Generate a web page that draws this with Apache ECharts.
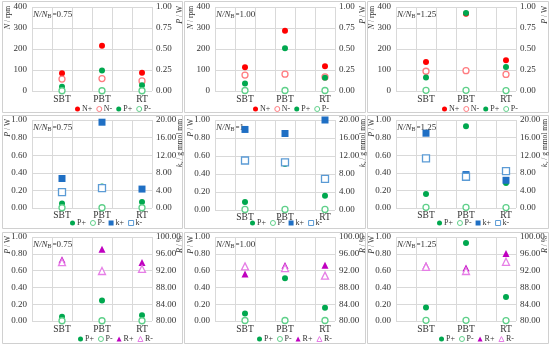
<!DOCTYPE html>
<html><head><meta charset="utf-8">
<script src="https://cdn.jsdelivr.net/npm/echarts@6/dist/echarts.min.js"></script>
<style>html,body{margin:0;padding:0;background:#fff}#c{width:550px;height:347px}</style>
</head><body><div id="c"></div>
<script>
// ---------- data ----------
const categories = ['SBT', 'PBT', 'RT'];
const ratioText = ['0.75', '1.00', '1.25'];
const ratioTextRow2 = ['0.75', '1', '1.25'];

// rotational speed N (rpm)
const nPos_075 = [84, 215, 87];
const nNeg_075 = [57, 59, 48];
const nPos_100 = [113, 287, 118];
const nNeg_100 = [76, 80, 67];
const nPos_125 = [138, 368, 146];
const nNeg_125 = [94, 97, 79];

// power P (W)
const pPos_075 = [0.05, 0.245, 0.068];
const pNeg_075 = [0.003, 0.003, 0.003];
const pPos_100 = [0.09, 0.51, 0.157];
const pNeg_100 = [0.006, 0.006, 0.006];
const pPos_125 = [0.16, 0.93, 0.285];
const pNeg_125 = [0.008, 0.008, 0.005];

// kv
const kPos_075 = [6.7, 19.5, 4.3];
const kNeg_075 = [3.6, 4.5, null];
const kPos_100 = [17.9, 17.0, 20.0];
const kNeg_100 = [11.0, 10.6, 6.9];
const kPos_125 = [17.0, 7.6, 6.3];
const kNeg_125 = [11.3, 7.1, 8.4];

// R (%)
const rPos_075 = [94.6, 97.1, 93.9];
const rNeg_075 = [94.0, 91.9, 92.4];
const rPos_100 = [91.2, 93.2, 93.3];
const rNeg_100 = [93.0, 92.6, 90.8];
const rPos_125 = [93.2, 92.6, 96.1];
const rNeg_125 = [92.9, 91.9, 94.1];

// tick labels
const nTicks = [0, 100, 200, 300, 400];
const pTicksRow1 = [0, 0.25, 0.5, 0.75, 1];
const pTicks = [0, 0.2, 0.4, 0.6, 0.8, 1];
const kTicks = [0, 4, 8, 12, 16, 20];
const rTicks = [80, 84, 88, 92, 96, 100];

// ---------- layout ----------
const colLeft = [32, 215, 396];
const plotW = 120;
const rowTop = [7, 120, 237];
const rowH = [[84, 84, 84], [88, 90, 88], [84, 84, 84]];
const panelX = [[2, 182], [184, 365], [367, 548]];
const panelY = [[1, 112], [115, 228], [232, 343]];
const legendTop = [105, 219, 335];
const legendLeft = [[75, 253, 442], [70, 250, 437], [78, 257, 439]];
const leftNameX = [8, 191, 372];
const rightNameX = [180, 363, 545];
const xLabelMargin = [3, 2, 3];

const STY = {
  'N+': {symbol: 'circle', size: 6, color: '#ff0000', fill: true},
  'N-': {symbol: 'circle', size: 6, color: '#ff7c80', fill: false},
  'P+': {symbol: 'circle', size: 6, color: '#00a84f', fill: true},
  'P-': {symbol: 'circle', size: 6, color: '#5fd08a', fill: false},
  'k+': {symbol: 'rect', size: 7, color: '#1f6fc4', fill: true},
  'k-': {symbol: 'rect', size: 7, color: '#5b9bd5', fill: false},
  'R+': {symbol: 'triangle', size: 7, color: '#c000c0', fill: true},
  'R-': {symbol: 'triangle', size: 7, color: '#e67ee6', fill: false}
};

const slotLabels = [];
categories.forEach(c => { slotLabels.push(''); slotLabels.push(c); });
function toSlots(arr) {
  return arr.map((v, i) => (v == null ? null : [slotLabels.indexOf(categories[i]), v])).filter(d => d);
}

const FONT = 'Liberation Serif';
const TXT = '#333';
const GRIDC = '#d9d9d9';

const panels = [
  [
    {series: [['N+', nPos_075, 0], ['N-', nNeg_075, 0], ['P+', pPos_075, 1], ['P-', pNeg_075, 1]]},
    {series: [['N+', nPos_100, 0], ['N-', nNeg_100, 0], ['P+', pPos_100, 1], ['P-', pNeg_100, 1]]},
    {series: [['N+', nPos_125, 0], ['N-', nNeg_125, 0], ['P+', pPos_125, 1], ['P-', pNeg_125, 1]]}
  ],
  [
    {series: [['P+', pPos_075, 0], ['P-', pNeg_075, 0], ['k+', kPos_075, 1], ['k-', kNeg_075, 1]]},
    {series: [['P+', pPos_100, 0], ['P-', pNeg_100, 0], ['k+', kPos_100, 1], ['k-', kNeg_100, 1]]},
    {series: [['P+', pPos_125, 0], ['P-', pNeg_125, 0], ['k+', kPos_125, 1], ['k-', kNeg_125, 1]]}
  ],
  [
    {series: [['P+', pPos_075, 0], ['P-', pNeg_075, 0], ['R+', rPos_075, 1], ['R-', rNeg_075, 1]]},
    {series: [['P+', pPos_100, 0], ['P-', pNeg_100, 0], ['R+', rPos_100, 1], ['R-', rNeg_100, 1]]},
    {series: [['P+', pPos_125, 0], ['P-', pNeg_125, 0], ['R+', rPos_125, 1], ['R-', rNeg_125, 1]]}
  ]
];
const rowAxes = [
  {left: nTicks, right: pTicksRow1, lfmt: v => String(v), rfmt: v => v.toFixed(2), lname: ['N', ' / rpm'], rname: ['P', ' / W']},
  {left: pTicks, right: kTicks, lfmt: v => v.toFixed(2), rfmt: v => v.toFixed(2), lname: ['P', ' / W'], rname: ['k', 'ᵥ / g mmol mm']},
  {left: pTicks, right: rTicks, lfmt: v => v.toFixed(2), rfmt: v => v.toFixed(2), lname: ['P', ' / W'], rname: ['R', ' / %']}
];

const grids = [], xAxes = [], yAxes = [], series = [], legends = [], graphics = [];

for (let r = 0; r < 3; r++) {
  for (let c = 0; c < 3; c++) {
    const g = grids.length;
    const ax = rowAxes[r];
    grids.push({left: colLeft[c], top: rowTop[r], width: plotW, height: rowH[r][c], containLabel: false, outerBoundsMode: 'none'});
    xAxes.push({
      type: 'category', gridIndex: g, data: slotLabels, boundaryGap: true,
      axisLine: {show: false}, axisTick: {show: false},
      splitLine: {show: true, interval: 0, lineStyle: {color: GRIDC, width: 1}},
      axisLabel: {interval: 0, margin: xLabelMargin[r], fontFamily: FONT, fontSize: 9.5, color: TXT}
    });
    const L = ax.left, R = ax.right;
    yAxes.push({
      type: 'value', gridIndex: g, position: 'left',
      min: L[0], max: L[L.length - 1], interval: L[1] - L[0],
      axisLine: {show: false}, axisTick: {show: false},
      splitLine: {show: true, lineStyle: {color: GRIDC, width: 1}},
      axisLabel: {margin: 5, fontFamily: FONT, fontSize: 9, color: TXT, formatter: ax.lfmt}
    });
    yAxes.push({
      type: 'value', gridIndex: g, position: 'right',
      min: R[0], max: R[R.length - 1], interval: R[1] - R[0],
      axisLine: {show: false}, axisTick: {show: false}, splitLine: {show: false},
      axisLabel: {margin: 4, fontFamily: FONT, fontSize: 9, color: TXT, formatter: ax.rfmt}
    });
    const names = [];
    panels[r][c].series.forEach(([name, arr, side]) => {
      const s = STY[name];
      names.push(name);
      series.push({
        type: 'scatter', name: name, xAxisIndex: g, yAxisIndex: 2 * g + side,
        symbol: s.symbol, symbolSize: s.size,
        itemStyle: s.fill ? {color: s.color, opacity: 1} : {color: '#ffffff', borderColor: s.color, borderWidth: 1.3, opacity: 1},
        emphasis: {disabled: true},
        data: toSlots(arr)
      });
    });
    legends.push({
      data: names, left: legendLeft[r][c], top: legendTop[r], orient: 'horizontal',
      itemWidth: 5, itemHeight: 5, itemGap: 4, padding: 0, selectedMode: false,
      itemStyle: {borderWidth: 1},
      textStyle: {fontFamily: FONT, fontSize: 8, color: TXT, padding: [0, 0, 0, -3]}
    });
    // panel border
    graphics.push({
      type: 'rect', silent: true,
      shape: {x: panelX[c][0] + 0.5, y: panelY[r][0] + 0.5, width: panelX[c][1] - panelX[c][0], height: panelY[r][1] - panelY[r][0]},
      style: {fill: 'none', stroke: '#d0d0d0', lineWidth: 1}
    });
    // annotation
    const rt = r === 1 ? ratioTextRow2[c] : ratioText[c];
    graphics.push({
      type: 'text', silent: true, x: colLeft[c] + 1, y: rowTop[r] + 1,
      style: {
        text: '{i|N/N}{s|B}{n|=' + rt + '}',
        rich: {
          i: {fontFamily: FONT, fontStyle: 'italic', fontSize: 9, fill: TXT, lineHeight: 11, verticalAlign: 'bottom'},
          s: {fontFamily: FONT, fontSize: 6, fill: TXT, lineHeight: 8, verticalAlign: 'bottom'},
          n: {fontFamily: FONT, fontSize: 9, fill: TXT, lineHeight: 11, verticalAlign: 'bottom'}
        }
      }
    });
    // axis names
    const mkName = (x, parts) => ({
      type: 'text', silent: true, x: x, y: rowTop[r] - 1, rotation: Math.PI / 2,
      style: {
        text: '{i|' + parts[0] + '}{n|' + parts[1] + '}', align: 'right', verticalAlign: 'middle',
        rich: {
          i: {fontFamily: FONT, fontStyle: 'italic', fontSize: 8, fill: TXT},
          n: {fontFamily: FONT, fontSize: 7.5, fill: TXT}
        }
      }
    });
    graphics.push(mkName(leftNameX[c], ax.lname));
    graphics.push(mkName(rightNameX[c], ax.rname));
  }
}

const chart = echarts.init(document.getElementById('c'), null, {renderer: 'canvas'});
chart.setOption({
  animation: false,
  backgroundColor: '#ffffff',
  grid: grids, xAxis: xAxes, yAxis: yAxes, series: series, legend: legends, graphic: graphics
});
</script></body></html>
